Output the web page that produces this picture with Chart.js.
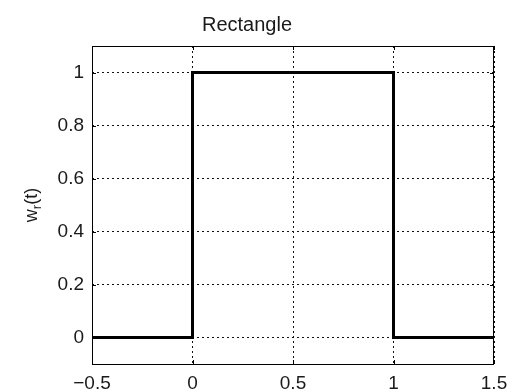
<!DOCTYPE html>
<html>
<head>
<meta charset="utf-8">
<title>Rectangle</title>
<script src="https://cdn.jsdelivr.net/npm/chart.js@4/dist/chart.umd.min.js"></script>
<style>
  html, body { margin: 0; padding: 0; background: #fff; }
  #wrap { width: 517px; height: 392px; }
</style>
</head>
<body>
<div id="wrap"><canvas id="win" width="517" height="392"></canvas></div>
<script>
// rectangular window w_r(t): 1 on [0, 1], 0 elsewhere
const tValues = [-0.5, 0, 0, 1, 1, 1.5];
const wValues = [0, 0, 1, 1, 0, 0];

const xTicks = [-0.5, 0, 0.5, 1, 1.5];
const yTicks = [0, 0.2, 0.4, 0.6, 0.8, 1];

const FONT = '"Liberation Sans", Arial, Helvetica, sans-serif';
const INK = '#1a1a1a';

const fmt = v => (v < 0 ? '\u2212' + Math.abs(v) : String(v));

// box around the axes plus small inward tick marks on all four sides
const axesBox = {
  id: 'axesBox',
  afterDraw(chart) {
    const { ctx, chartArea: a, scales } = chart;
    ctx.save();
    ctx.strokeStyle = '#000';
    ctx.lineWidth = 1;
    ctx.strokeRect(a.left + 0.5, a.top + 0.5, a.right - a.left - 1, a.bottom - a.top);
    const len = 4;
    ctx.beginPath();
    xTicks.forEach(v => {
      const x = Math.round(scales.x.getPixelForValue(v)) + 0.5;
      ctx.moveTo(x, a.bottom); ctx.lineTo(x, a.bottom - len);
      ctx.moveTo(x, a.top); ctx.lineTo(x, a.top + len);
    });
    yTicks.forEach(v => {
      const y = Math.round(scales.y.getPixelForValue(v)) + 0.5;
      ctx.moveTo(a.left, y); ctx.lineTo(a.left + len, y);
      ctx.moveTo(a.right, y); ctx.lineTo(a.right - len, y);
    });
    ctx.stroke();
    ctx.restore();
  }
};

// y axis label with subscript: w_r(t)
const yLabel = {
  id: 'yLabel',
  afterDraw(chart) {
    const { ctx, chartArea: a } = chart;
    const cy = (a.top + a.bottom) / 2;
    ctx.save();
    ctx.translate(31, cy);
    ctx.rotate(-Math.PI / 2);
    ctx.fillStyle = INK;
    ctx.textBaseline = 'alphabetic';
    ctx.textAlign = 'left';
    const big = '18px ' + FONT, small = '13px ' + FONT;
    ctx.font = big;
    const w1 = ctx.measureText('w').width;
    ctx.font = small;
    const w2 = ctx.measureText('r').width;
    ctx.font = big;
    const w3 = ctx.measureText('(t)').width;
    let x = -(w1 + w2 + w3) / 2;
    ctx.fillText('w', x, 6);
    x += w1;
    ctx.font = small;
    ctx.fillText('r', x, 10);
    x += w2;
    ctx.font = big;
    ctx.fillText('(t)', x, 6);
    ctx.restore();
  }
};

new Chart(document.getElementById('win'), {
  type: 'scatter',
  data: {
    datasets: [{
      data: tValues.map((t, i) => ({ x: t, y: wValues[i] })),
      showLine: true,
      borderColor: '#000',
      borderWidth: 3,
      pointRadius: 0,
      tension: 0,
      fill: false
    }]
  },
  options: {
    responsive: false,
    animation: false,
    layout: { padding: { left: 0, right: 23, top: 0, bottom: 0 } },
    plugins: {
      legend: { display: false },
      tooltip: { enabled: false },
      title: {
        display: true,
        text: 'Rectangle',
        color: INK,
        font: { family: FONT, size: 20, weight: 'normal', lineHeight: 1.2 },
        padding: { top: 13, bottom: 9 }
      }
    },
    scales: {
      x: {
        type: 'linear',
        min: -0.5,
        max: 1.5,
        afterBuildTicks: s => { s.ticks = xTicks.map(value => ({ value })); },
        afterFit: s => { s.height = 28; },
        grid: { color: '#111', lineWidth: 1, drawTicks: false },
        border: { display: false, dash: [2, 3] },
        ticks: {
          color: INK,
          padding: 8,
          maxRotation: 0,
          font: { family: FONT, size: 19 },
          callback: fmt
        }
      },
      y: {
        type: 'linear',
        min: -0.1,
        max: 1.1,
        afterBuildTicks: s => { s.ticks = yTicks.map(value => ({ value })); },
        afterFit: s => { s.width = 92; },
        grid: { color: '#111', lineWidth: 1, drawTicks: false },
        border: { display: false, dash: [2, 3] },
        ticks: {
          color: INK,
          padding: 8,
          font: { family: FONT, size: 19 },
          callback: fmt
        }
      }
    }
  },
  plugins: [axesBox, yLabel]
});
</script>
</body>
</html>
